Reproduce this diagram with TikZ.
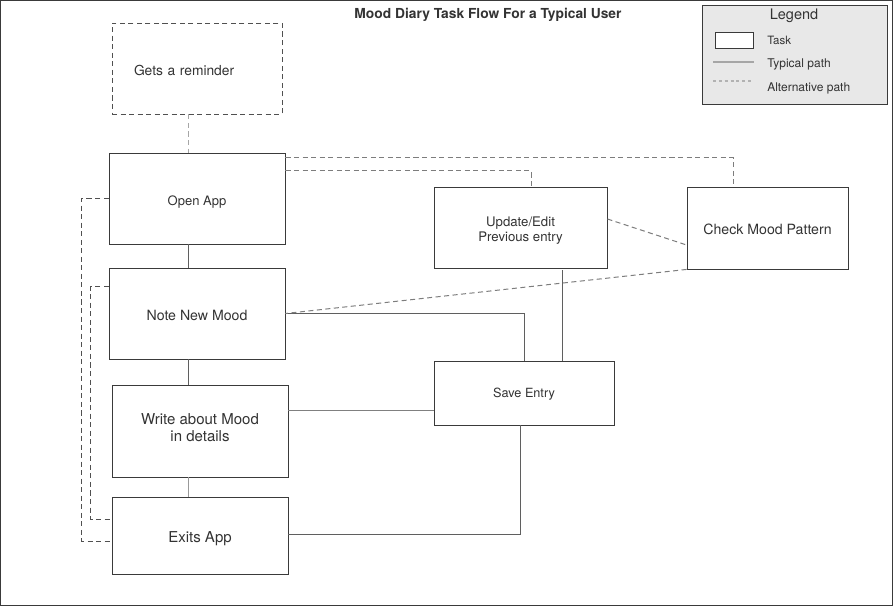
\documentclass[tikz,border=0pt]{standalone}
\usepackage{fontspec}
\setmainfont{TeX Gyre Heros}
\usepackage{xcolor}
\usepackage{tikz}
\usetikzlibrary{calc}
\definecolor{ink}{RGB}{51, 51, 51}
\definecolor{edge}{RGB}{58, 58, 58}
\definecolor{wire}{RGB}{95, 95, 95}
\definecolor{altwire}{RGB}{125, 125, 125}
\definecolor{altdark}{RGB}{80, 80, 80}
\definecolor{legendbg}{RGB}{232, 232, 232}

\begin{document}
\begin{tikzpicture}[x=0.75pt,y=0.75pt,yscale=-1,xscale=1,
  task/.style={draw=edge, line width=0.65pt, fill=white, inner sep=0pt, align=center, text=ink, text height=1.25em, text depth=0.25em},
  typical/.style={draw=wire, line width=0.75pt},
  alternative/.style={draw=altwire, line width=0.75pt, dash pattern=on 3.8pt off 2.6pt},
  alternativedark/.style={alternative, draw=altdark},
  legendbox/.style={draw=edge, line width=0.75pt, fill=legendbg, inner sep=0pt},
  lbl/.style={anchor=west, inner sep=0pt, text=ink}]
%set diagram frame, 893 x 606
\useasboundingbox (0,0) rectangle (893,606);
\draw [edge, line width=0.9pt] (0.6,0.6) rectangle (892.4,605.4);

% Title
\node [text=ink, font=\fontsize{10.35}{12}\selectfont\bfseries] (title) at (488,15) {Mood Diary Task Flow For a Typical User};

% Legend
\node [legendbox, minimum width=138.75pt, minimum height=74.25pt] (legend) at (794.5,55.5) {};
\node [text=ink, inner sep=0pt, font=\fontsize{10.9}{12}\selectfont] (legendtitle) at (794,16) {Legend};
\node [task, text height=0pt, text depth=0pt, minimum width=28.5pt, minimum height=12pt] (legtask) at (734,40) {};
\node [lbl, font=\fontsize{8.6}{10}\selectfont] (legtasktxt) at (767,40) {Task};
\coordinate (legtypA) at (713,62);
\coordinate (legtypB) at (754,62);
\draw [draw=black!35, line width=1.1pt] (legtypA) -- (legtypB);
\node [lbl, font=\fontsize{9}{10}\selectfont] (legtyptxt) at (767,64) {Typical path};
\coordinate (legaltA) at (713,81);
\coordinate (legaltB) at (754,81);
\draw [draw=black!30, line width=0.8pt, dash pattern=on 2.2pt off 2.2pt] (legaltA) -- (legaltB);
\node [lbl, font=\fontsize{9}{10}\selectfont] (legalttxt) at (767,88) {Alternative path};

% Tasks
\node [task, draw=altdark, dash pattern=on 3.8pt off 2.6pt, minimum width=127.5pt, minimum height=68.25pt, inner xsep=16.5pt, text width=94.5pt, align=left, font=\fontsize{10.35}{12}\selectfont] (remind) at (197,68.5) {Gets a reminder};
\node [task, minimum width=132pt, minimum height=68.25pt, font=\fontsize{9.75}{11}\selectfont] (open) at (197,198.5) {Open App};
\node [task, minimum width=132pt, minimum height=68.25pt, font=\fontsize{10.6}{12}\selectfont] (note) at (197,313.5) {Note New Mood};
\node [task, minimum width=132pt, minimum height=69pt, text height=19.1pt, text depth=2.8pt, font=\fontsize{11.25}{12.75}\selectfont] (write) at (200,431) {Write about Mood\\in details};
\node [task, minimum width=132pt, minimum height=57.75pt, font=\fontsize{11.25}{12.75}\selectfont] (exits) at (200,535.5) {Exits App};
\node [task, minimum width=129.75pt, minimum height=60.75pt, text height=23pt, text depth=2.1pt, font=\fontsize{9.9}{11.25}\selectfont] (update) at (520.5,227.5) {Update/Edit\\Previous entry};
\node [task, minimum width=120.75pt, minimum height=61.5pt, font=\fontsize{10.6}{12}\selectfont] (check) at (767.5,228) {Check Mood Pattern};
\node [task, minimum width=135pt, minimum height=48pt, text height=0.97em, font=\fontsize{9.5}{11}\selectfont] (save) at (524,393) {Save Entry};

% Typical path
\coordinate (spine) at (188,0);
\draw [typical] (open.south -| spine) -- (note.north -| spine);
\draw [typical] (note.south -| spine) -- (write.north -| spine);
\draw [typical, draw=black!40] (write.south -| spine) -- (exits.north -| spine);
\draw [typical] (note.east) -| (save.north);
\coordinate (upfoot) at ($(update.south)+(41.5,2)$);
\draw [typical] (upfoot) -- (upfoot |- save.north);
\coordinate (writeout) at ($(write.east)+(0,-21)$);
\draw [typical, draw=black!50] (writeout) -- (writeout -| save.west);
\draw [typical] ($(save.south)+(-4,0)$) |- ($(exits.east)+(0,-1.5)$);

% Alternative path
\draw [alternative, draw=black!35] (remind.south -| spine) -- (open.north -| spine);
\draw [alternative] ($(open.north east)+(0,5)$) -| ($(check.north)+(-34.5,0)$);
\draw [alternative] ($(open.north east)+(0,18)$) -| ($(update.north)+(10.5,0)$);
\draw [alternative] ($(update.east)+(0,-8.5)$) -- ($(check.west)+(0,17)$);
\draw [alternative] (check.south west) -- (note.east);
\draw [alternativedark] (open.west) -- ++(-27,0) |- ($(exits.west)+(0,5.5)$);
\draw [alternativedark] ($(note.north west)+(0,19)$) -- ++(-18,0) |- ($(exits.west)+(0,-16.5)$);

\end{tikzpicture}
\end{document}
